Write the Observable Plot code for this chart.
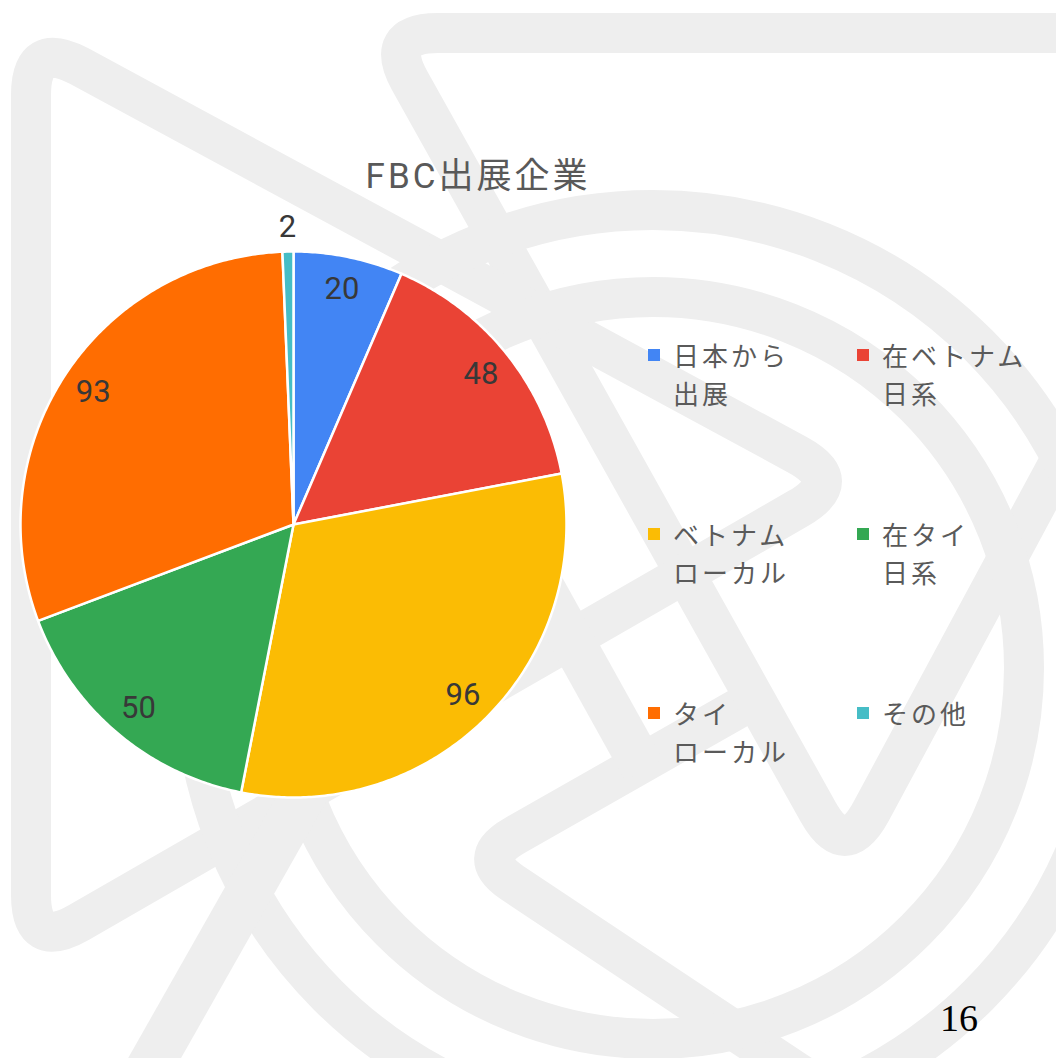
<!DOCTYPE html>
<html>
<head>
<meta charset="utf-8">
<script src="https://cdn.jsdelivr.net/npm/d3@7"></script>
<script src="https://cdn.jsdelivr.net/npm/@observablehq/plot@0.6"></script>
<style>
  html, body { margin: 0; padding: 0; background: #ffffff; }
  #page { position: relative; width: 1056px; height: 1058px; overflow: hidden; background: #fff; }
  #bg { position: absolute; left: 0; top: 0; }
  #chart { position: absolute; left: 0; top: 0; }
  #title { position: absolute; left: 278px; width: 400px; top: 157px; text-align: center;
           font-family: Roboto, "Noto Sans CJK JP", sans-serif; font-size: 35px; line-height: 40px;
           color: #595959; letter-spacing: 3px; }
  #legend { position: absolute; left: 648px; top: 336px; display: grid;
            grid-template-columns: 209px 209px; grid-auto-rows: 179px; }
  .item { display: flex; align-items: flex-start; }
  .sw { width: 12px; height: 12px; margin-top: 13px; margin-right: 13px; flex: none; }
  .lab { font-family: "Noto Sans CJK JP", sans-serif; font-size: 26px; line-height: 38px; color: #5a5a5a; letter-spacing: 3px; }
  #pageno { position: absolute; left: 940px; top: 996px; font-family: "Liberation Serif", serif; font-size: 38px; color: #000; }
</style>
</head>
<body>
<div id="page">
  <svg id="bg" width="1056" height="1058">
    <g id="wm" fill="none" stroke="#eeeeee" stroke-width="40" stroke-linejoin="round" stroke-linecap="round">
      <circle cx="653" cy="670" r="460"/>
      <circle cx="653" cy="668" r="371"/>
      <line x1="494" y1="500" x2="644" y2="770" stroke-width="44" stroke-linecap="butt"/>
      <line x1="145" y1="1075" x2="315" y2="775" stroke-width="46" stroke-linecap="butt"/>
    </g>
  </svg>
  <div id="chart"></div>
  <div id="title">FBC出展企業</div>
  <div id="legend"></div>
  <div id="pageno">16</div>
</div>
<script>
const categories = ["日本から出展", "在ベトナム日系", "ベトナムローカル", "在タイ日系", "タイローカル", "その他"];
const legendLines = [["日本から", "出展"], ["在ベトナム", "日系"], ["ベトナム", "ローカル"], ["在タイ", "日系"], ["タイ", "ローカル"], ["その他"]];
const values = [20, 48, 96, 50, 93, 2];
const colors = ["#4285F4", "#EA4335", "#FBBC04", "#34A853", "#FF6D01", "#46BDC6"];

// decorative watermark (background logo), not data
function roundedPath(pts, d, closed) {
  const n = pts.length;
  let s = "";
  const lerp = (a, b, t) => [a[0] + (b[0] - a[0]) * t, a[1] + (b[1] - a[1]) * t];
  const dist = (a, b) => Math.hypot(b[0] - a[0], b[1] - a[1]);
  for (let i = 0; i < n; i++) {
    const p = pts[i];
    if (!closed && (i === 0 || i === n - 1)) {
      s += (i === 0 ? "M" : "L") + p[0] + "," + p[1];
      continue;
    }
    const prev = pts[(i - 1 + n) % n], next = pts[(i + 1) % n];
    const a = lerp(p, prev, d / dist(p, prev));
    const b = lerp(p, next, d / dist(p, next));
    s += (s ? "L" : "M") + a[0] + "," + a[1] + "Q" + p[0] + "," + p[1] + " " + b[0] + "," + b[1];
  }
  if (closed) s += "Z";
  return s;
}
const wm = document.getElementById("wm");
[[[[31, 40], [846, 481], [31, 950]], 55, true],
 [[[383, 33], [1290, 33], [845, 860]], 55, true],
 [[[760, 696], [475, 858], [1150, 1307]], 45, false]].forEach(([pts, d, closed]) => {
  const p = document.createElementNS("http://www.w3.org/2000/svg", "path");
  p.setAttribute("d", roundedPath(pts, d, closed));
  if (!closed) p.setAttribute("stroke-linecap", "butt");
  wm.insertBefore(p, wm.firstChild);
});

const arcs = d3.pie().sort(null)(values);
const slicePts = [];
arcs.forEach((a, i) => {
  slicePts.push({cat: categories[i], x: 0, y: 0});
  const n = Math.max(2, Math.ceil((a.endAngle - a.startAngle) / 0.01));
  for (let k = 0; k <= n; k++) {
    const t = a.startAngle + (a.endAngle - a.startAngle) * k / n;
    slicePts.push({cat: categories[i], x: Math.sin(t), y: Math.cos(t)});
  }
});
const labels = arcs.map((a, i) => {
  const m = (a.startAngle + a.endAngle) / 2;
  const r = values[i] / d3.sum(values) < 0.02 ? 1.09 : 0.88;
  return {text: String(values[i]), x: r * Math.sin(m), y: r * Math.cos(m)};
});

const plot = Plot.plot({
  width: 1056,
  height: 1058,
  margin: 0,
  x: {domain: [-1, 1], range: [20, 566], axis: null},
  y: {domain: [-1, 1], range: [797, 251], axis: null},
  color: {domain: categories, range: colors},
  style: {background: "transparent", fontFamily: "Roboto, sans-serif"},
  marks: [
    Plot.line(slicePts, {x: "x", y: "y", z: "cat", fill: "cat", stroke: "white", strokeWidth: 2.5, curve: "linear-closed", strokeLinejoin: "round"}),
    Plot.text(labels, {x: "x", y: "y", text: "text", fontSize: 31, fill: "#383838"})
  ]
});
document.getElementById("chart").appendChild(plot);

const leg = document.getElementById("legend");
categories.forEach((c, i) => {
  const it = document.createElement("div");
  it.className = "item";
  const sw = document.createElement("div");
  sw.className = "sw";
  sw.style.background = colors[i];
  const lab = document.createElement("div");
  lab.className = "lab";
  lab.innerHTML = legendLines[i].join("<br>");
  it.appendChild(sw);
  it.appendChild(lab);
  leg.appendChild(it);
});
</script>
</body>
</html>
